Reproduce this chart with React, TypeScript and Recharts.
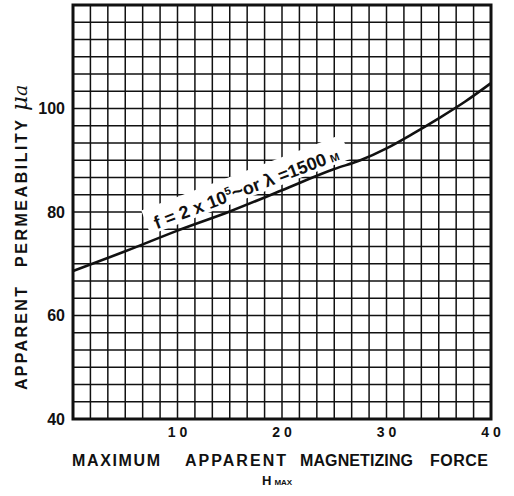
import React from 'react';
import { LineChart, Line, XAxis, YAxis, CartesianGrid, ReferenceArea, ReferenceDot } from 'recharts';

// H max (x) and apparent permeability (y)
const hMax = [0, 5, 10, 15, 20, 25, 27.5, 30, 32.5, 35, 37.5, 40];
const permeability = [68.6, 72.4, 76.4, 80.1, 84.2, 88.3, 90.0, 92.3, 95.1, 98.1, 101.3, 104.9];

const xLabels = [10, 20, 30, 40];
const yLabels = [40, 60, 80, 100];

// fine paper grid: 24 divisions each way
const xGrid = Array.from({ length: 25 }, (_, i) => (i * 40) / 24);
const yGrid = Array.from({ length: 25 }, (_, i) => 40 + (i * 80) / 24);

const data = hMax.map((h, i) => ({ h, mu: permeability[i] }));

const FONT = '"Liberation Sans", Arial, Helvetica, sans-serif';
const INK = '#111';

const showIf = (list: number[]) => (v: number) =>
    list.some((l) => Math.abs(l - v) < 1e-6) ? String(v) : '';

const XTitle = (props: any) => {
    const vb = props.viewBox || { x: 73, y: 419 };
    const y = vb.y + 47;
    const words: [string, number, number][] = [
        ['MAXIMUM', -1, 88],
        ['APPARENT', 112, 101],
        ['MAGNETIZING', 227, 113],
        ['FORCE', 357, 58],
    ];
    return (
        <g fill={INK} fontFamily={FONT} fontWeight="bold">
            {words.map(([w, dx, len]) => (
                <text key={w} x={vb.x + dx} y={y} fontSize={16} textLength={len} lengthAdjust="spacing">
                    {w}
                </text>
            ))}
            <text x={vb.x + 189} y={vb.y + 66} fontSize={13}>
                H<tspan dx={3} fontSize={8}>MAX</tspan>
            </text>
        </g>
    );
};

const YTitle = (props: any) => {
    const vb = props.viewBox || { x: 0, y: 5, height: 414 };
    const bx = 27;
    const by = vb.y + 385;
    return (
        <g transform={`rotate(-90 ${bx} ${by})`} fill={INK} fontFamily={FONT} fontWeight="bold">
            <text x={bx} y={by} fontSize={16} textLength={103} lengthAdjust="spacing">APPARENT</text>
            <text x={bx + 123} y={by} fontSize={16} textLength={147} lengthAdjust="spacing">PERMEABILITY</text>
            <text x={bx + 279} y={by} fontSize={23} fontStyle="italic" fontWeight="normal" fontFamily="'DejaVu Serif', serif">
                μ<tspan fontSize={19}>a</tspan>
            </text>
        </g>
    );
};

// label along the curve, on a white strip that breaks the grid
const CurveLabel = (props: any) => {
    const vb = props.viewBox || { x: 0, y: 0, width: 0, height: 0 };
    const cx = vb.x + (vb.width || 0) / 2;
    const cy = vb.y + (vb.height || 0) / 2;
    return (
        <g transform={`rotate(-20.8 ${cx} ${cy})`}>
            <rect x={cx - 106} y={cy - 23} width={214} height={26} fill="#fff" />
            <text
                x={cx}
                y={cy}
                textAnchor="middle"
                fill={INK}
                fontFamily={FONT}
                fontWeight="bold"
                fontSize={18}
            >
                f = 2 x 10<tspan dy={-7} fontSize={11}>5</tspan>
                <tspan dy={7} fontSize={20}>~</tspan>
                <tspan>or λ  =1500</tspan>
                <tspan fontSize={11} dx={4}>M</tspan>
            </text>
        </g>
    );
};

export default function App() {
    return (
        <div style={{ position: 'absolute', left: 0, top: 0, width: 514, height: 496, background: '#fff' }}>
            <LineChart width={514} height={496} data={data} margin={{ top: 5, right: 23, left: 0, bottom: 0 }}>
                <CartesianGrid stroke={INK} strokeWidth={1.5} fill="none" />
                <XAxis
                    dataKey="h"
                    type="number"
                    domain={[0, 40]}
                    ticks={xGrid}
                    interval={0}
                    height={77}
                    axisLine={false}
                    tickLine={false}
                    tickFormatter={showIf(xLabels)}
                    tick={{ fill: INK, fontSize: 14, fontWeight: 'bold', fontFamily: FONT, letterSpacing: 4, dx: 2 }}
                    label={<XTitle />}
                />
                <YAxis
                    type="number"
                    domain={[40, 120]}
                    ticks={yGrid}
                    interval={0}
                    width={73}
                    axisLine={false}
                    tickLine={false}
                    tickFormatter={showIf(yLabels)}
                    tick={{ fill: INK, fontSize: 16, fontWeight: 'bold', fontFamily: FONT }}
                    label={<YTitle />}
                />
                <ReferenceArea x1={0} x2={40} y1={40} y2={120} fill="none" stroke={INK} strokeWidth={3} />
                <ReferenceDot x={16.8} y={83.4} r={1} fill="none" stroke="none" label={<CurveLabel />} />
                <Line
                    type="monotone"
                    dataKey="mu"
                    stroke={INK}
                    strokeWidth={2.6}
                    dot={false}
                    isAnimationActive={false}
                />
            </LineChart>
        </div>
    );
}
